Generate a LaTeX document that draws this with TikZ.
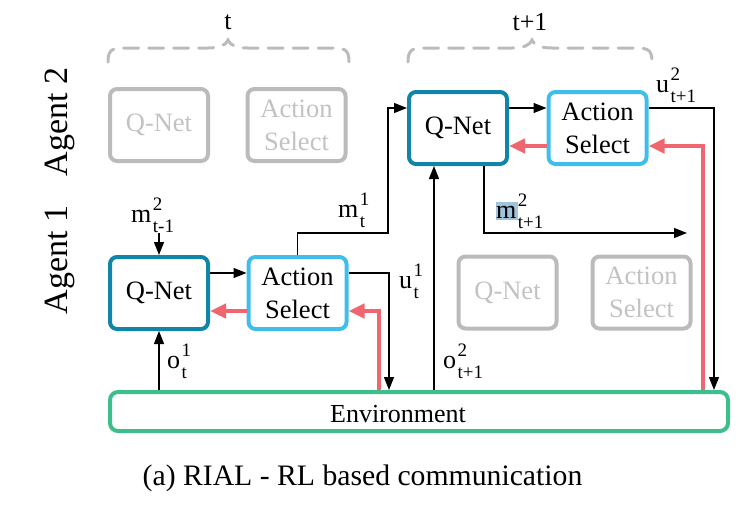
\documentclass[tikz,border=0pt]{standalone}
\usepackage{fontspec}
\setmainfont{Liberation Serif}
\usetikzlibrary{arrows.meta}
\definecolor{qcol}{HTML}{1085A8}
\definecolor{acol}{HTML}{40BEEB}
\definecolor{ecol}{HTML}{3EBE8C}
\definecolor{rcol}{HTML}{F0666F}
\definecolor{gcol}{HTML}{BBBBBB}
\definecolor{gtxt}{HTML}{C2C2C2}
\definecolor{hcol}{HTML}{A0C4DC}
\newcommand\lbl[3]{#1\kern1.5pt\rlap{\raisebox{12pt}{\fontsize{19}{19}\selectfont #2}}\raisebox{-10pt}{\fontsize{19}{19}\selectfont #3}}
\tikzset{
  box/.style={draw, line width=4pt, rounded corners=7pt, minimum width=98pt, minimum height=72pt,
    align=center, inner sep=0pt, font=\fontsize{26.5}{33}\selectfont},
  qbox/.style={box, draw=qcol},
  abox/.style={box, draw=acol},
  gbox/.style={box, draw=gcol, text=gtxt},
  arr/.style={line width=1.3pt, -{Triangle[length=13pt,width=10pt]}},
  redarr/.style={line width=4pt, rcol, -{Triangle[length=16pt,width=14pt]}},
  lab/.style={inner sep=0pt, font=\fontsize{26}{30}\selectfont},
  brace/.style={gcol, line width=3pt, dash pattern=on 15pt off 10pt, line cap=round},
  agent/.style={font=\fontsize{34}{36}\selectfont, rotate=90, inner sep=0pt}
}
\begin{document}
\begin{tikzpicture}[x=1pt,y=-1pt]
\useasboundingbox (0,0) rectangle (749,515);
% braces
\draw[brace] (108,62) .. controls (108,50) and (112,48) .. (124,48) -- (208,48)
  .. controls (220,48) and (226,45) .. (228,40) .. controls (230,45) and (236,48) .. (248,48)
  -- (333,48) .. controls (345,48) and (349,50) .. (349,62);
\draw[brace] (408,62) .. controls (408,50) and (412,48) .. (424,48) -- (512,48)
  .. controls (524,48) and (530,45) .. (532,40) .. controls (534,45) and (540,48) .. (552,48)
  -- (636,48) .. controls (648,48) and (652,50) .. (652,62);
\node[lab] (tl) at (228,22) {t};
\node[lab] (tpl) at (530,22) {t+1};
% agent labels
\node[agent] (ag2) at (60,122) {Agent 2};
\node[agent] (ag1) at (60,260) {Agent 1};
% gray boxes
\node[gbox] (gq2) at (159,125) {Q-Net};
\node[gbox] (ga2) at (296.5,125) {Action\\Select};
\node[gbox] (gq1) at (507.5,292.5) {Q-Net};
\node[gbox] (ga1) at (641.5,292.5) {Action\\Select};
% active boxes
\node[qbox] (q1) at (159,293) {Q-Net};
\node[abox] (a1) at (297.5,293) {Action\\Select};
\node[qbox] (q2) at (458,128) {Q-Net};
\node[abox] (a2) at (597.5,128) {Action\\Select};
% environment
\node[draw=ecol, line width=4pt, rounded corners=8pt, minimum width=618pt, minimum height=39pt, inner sep=0pt] (env) at (419,411.5) {};
\node[lab, anchor=base] (envt) at (398,422) {Environment};
% coordinates
\coordinate (min) at (159,233);
\coordinate (xu1) at (389,0);
\coordinate (xr1) at (379,0);
\coordinate (xm1) at (388,233);
\coordinate (xu2) at (714,0);
\coordinate (xr2) at (703,0);
\coordinate (xo2) at (434,0);
\coordinate (m2end) at (687,233);
% agent 1 connectors
\draw[arr] (min) -- (q1.north);
\draw[arr] ([yshift=20pt]q1.east) -- ([yshift=20pt]a1.west);
\draw[redarr] ([yshift=-18pt]a1.west) -- ([yshift=-18pt]q1.east);
\draw[arr] ([yshift=20pt]a1.east) -| (xu1 |- env.north);
\draw[redarr] (xr1 |- env.north) |- ([yshift=-18pt]a1.east);
\draw[arr] (q1.south |- env.north) -- (q1.south);
\draw[arr] (a1.north) |- (xm1) |- ([yshift=20pt]q2.west);
% agent 2 connectors
\draw[arr] ([yshift=20pt]q2.east) -- ([yshift=20pt]a2.west);
\draw[redarr] ([yshift=-18pt]a2.west) -- ([yshift=-18pt]q2.east);
\draw[arr] ([yshift=20pt]a2.east) -| (xu2 |- env.north);
\draw[redarr] (xr2 |- env.north) |- ([yshift=-18pt]a2.east);
\draw[arr] ([xshift=26pt]q2.south) |- (m2end);
\draw[arr] (xo2 |- env.north) -- (xo2 |- q2.south);
% selection highlight behind m
\fill[hcol] (496,202) rectangle (518,220);
% labels
\node[lab, anchor=base west] (lm2) at (131,222) {\lbl{m}{2}{t-1}};
\node[lab, anchor=base west] (lm1) at (338,217) {\lbl{m}{1}{t}};
\node[lab, anchor=base west] (lu1) at (399,288) {\lbl{u}{1}{t}};
\node[lab, anchor=base west] (lo1) at (167,368) {\lbl{o}{1}{t}};
\node[lab, anchor=base west] (lo2) at (443,368) {\lbl{o}{2}{t+1}};
\node[lab, anchor=base west] (lm3) at (496,218) {\lbl{m}{2}{t+1}};
\node[lab, anchor=base west] (lu2) at (656,92) {\lbl{u}{2}{t+1}};
% caption
\node[anchor=base, inner sep=0pt, font=\fontsize{29.7}{32}\selectfont] (cap) at (362.5,485) {(a) RIAL - RL based communication};
\end{tikzpicture}
\end{document}
